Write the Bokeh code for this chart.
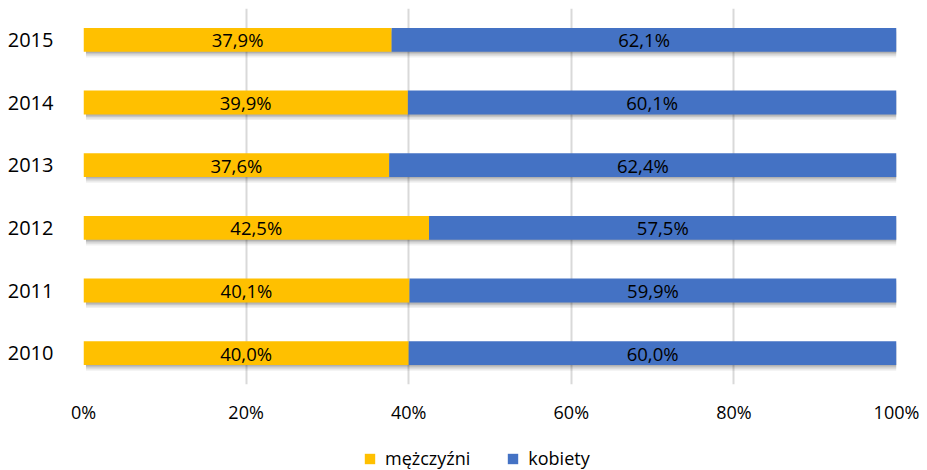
from bokeh.plotting import figure
from bokeh.layouts import column
from bokeh.models import (ColumnDataSource, FactorRange, Range1d, Legend, LegendItem,
                          PrintfTickFormatter, FixedTicker)
from bokeh.transform import dodge
from bokeh.core.properties import value
from bokeh.embed import file_html
from bokeh.resources import INLINE

years = ["2010", "2011", "2012", "2013", "2014", "2015"]
men = [40.0, 40.1, 42.5, 37.6, 39.9, 37.9]
women = [60.0, 59.9, 57.5, 62.4, 60.1, 62.1]
x_ticks = [0, 20, 40, 60, 80, 100]
series_names = ["mężczyźni", "kobiety"]
colors = ["#FFC000", "#4472C4"]

FONT = "Open Sans"

def fmt(v):
    return ("%.1f" % v).replace(".", ",") + "%"

src = ColumnDataSource(dict(
    y=years,
    men=men,
    women=women,
    total=[m + w for m, w in zip(men, women)],
    zero=[0] * len(years),
    men_mid=[m / 2 for m in men],
    women_mid=[m + w / 2 for m, w in zip(men, women)],
    men_lbl=[fmt(v) for v in men],
    women_lbl=[fmt(v) for v in women],
))

p = figure(width=927, height=430, output_backend="svg", toolbar_location=None,
           y_range=FactorRange(factors=years, range_padding=0),
           x_range=Range1d(0, 100),
           min_border_left=83, min_border_right=31, min_border_top=8, min_border_bottom=46)
p.outline_line_color = None
p.background_fill_color = "white"

H = 0.38
# shadows
for off, a in [(-0.09, 0.06), (-0.065, 0.08), (-0.04, 0.10), (-0.02, 0.10)]:
    p.hbar(y=dodge("y", off, range=p.y_range), left=0.3, right=100.3, height=H, source=src,
           fill_color="#000000", fill_alpha=a, line_color=None)

p.hbar(y="y", left="zero", right="men", height=H, source=src,
       fill_color=colors[0], line_color=None)
p.hbar(y="y", left="men", right="total", height=H, source=src,
       fill_color=colors[1], line_color=None)

for xcol, lcol in [("men_mid", "men_lbl"), ("women_mid", "women_lbl")]:
    p.text(x=xcol, y="y", text=lcol, source=src, text_align="center",
           text_baseline="middle", text_font=value(FONT), text_font_size="18.5px",
           text_color="#000000")

p.xaxis.ticker = FixedTicker(ticks=x_ticks)
p.xaxis.formatter = PrintfTickFormatter(format="%d%%")
for ax in (p.xaxis, p.yaxis):
    ax.axis_line_color = None
    ax.major_tick_line_color = None
    ax.minor_tick_line_color = None
    ax.major_label_text_font = FONT
    ax.major_label_text_font_size = "18px"
    ax.major_label_text_color = "#000000"
p.yaxis.major_label_text_font_size = "20px"
p.xaxis.major_label_standoff = 9
p.yaxis.major_label_standoff = 24

p.xgrid.grid_line_color = "#d9d9d9"
p.xgrid.grid_line_width = 2
p.ygrid.grid_line_color = None

# legend strip (its frame is aligned with the main plot's frame by the column layout)
lg = figure(width=927, height=40, output_backend="svg", toolbar_location=None,
            x_range=Range1d(0, 1), y_range=Range1d(0, 1),
            x_axis_type=None, y_axis_type=None,
            min_border_left=0, min_border_right=0, min_border_top=0, min_border_bottom=0)
lg.outline_line_color = None
lg.xgrid.visible = False
lg.ygrid.visible = False
hidden = ColumnDataSource(dict(y=[-5], l=[0], r=[0]))
lr1 = lg.hbar(y="y", left="l", right="r", height=1, source=hidden,
              fill_color=colors[0], line_color=None)
lr2 = lg.hbar(y="y", left="l", right="r", height=1, source=hidden,
              fill_color=colors[1], line_color=None)
legend = Legend(items=[LegendItem(label=series_names[0], renderers=[lr1]),
                       LegendItem(label=series_names[1], renderers=[lr2])],
                orientation="horizontal", location=(280, 0),
                border_line_color=None, background_fill_alpha=0,
                label_text_font=FONT, label_text_font_size="18px",
                label_text_color="#000000", glyph_width=13, glyph_height=13,
                spacing=36, padding=0, margin=0, label_standoff=9,
                label_height=20)
lg.add_layout(legend, "center")

layout = column(p, lg, spacing=0)
open("out.html", "w").write(file_html(layout, INLINE))
